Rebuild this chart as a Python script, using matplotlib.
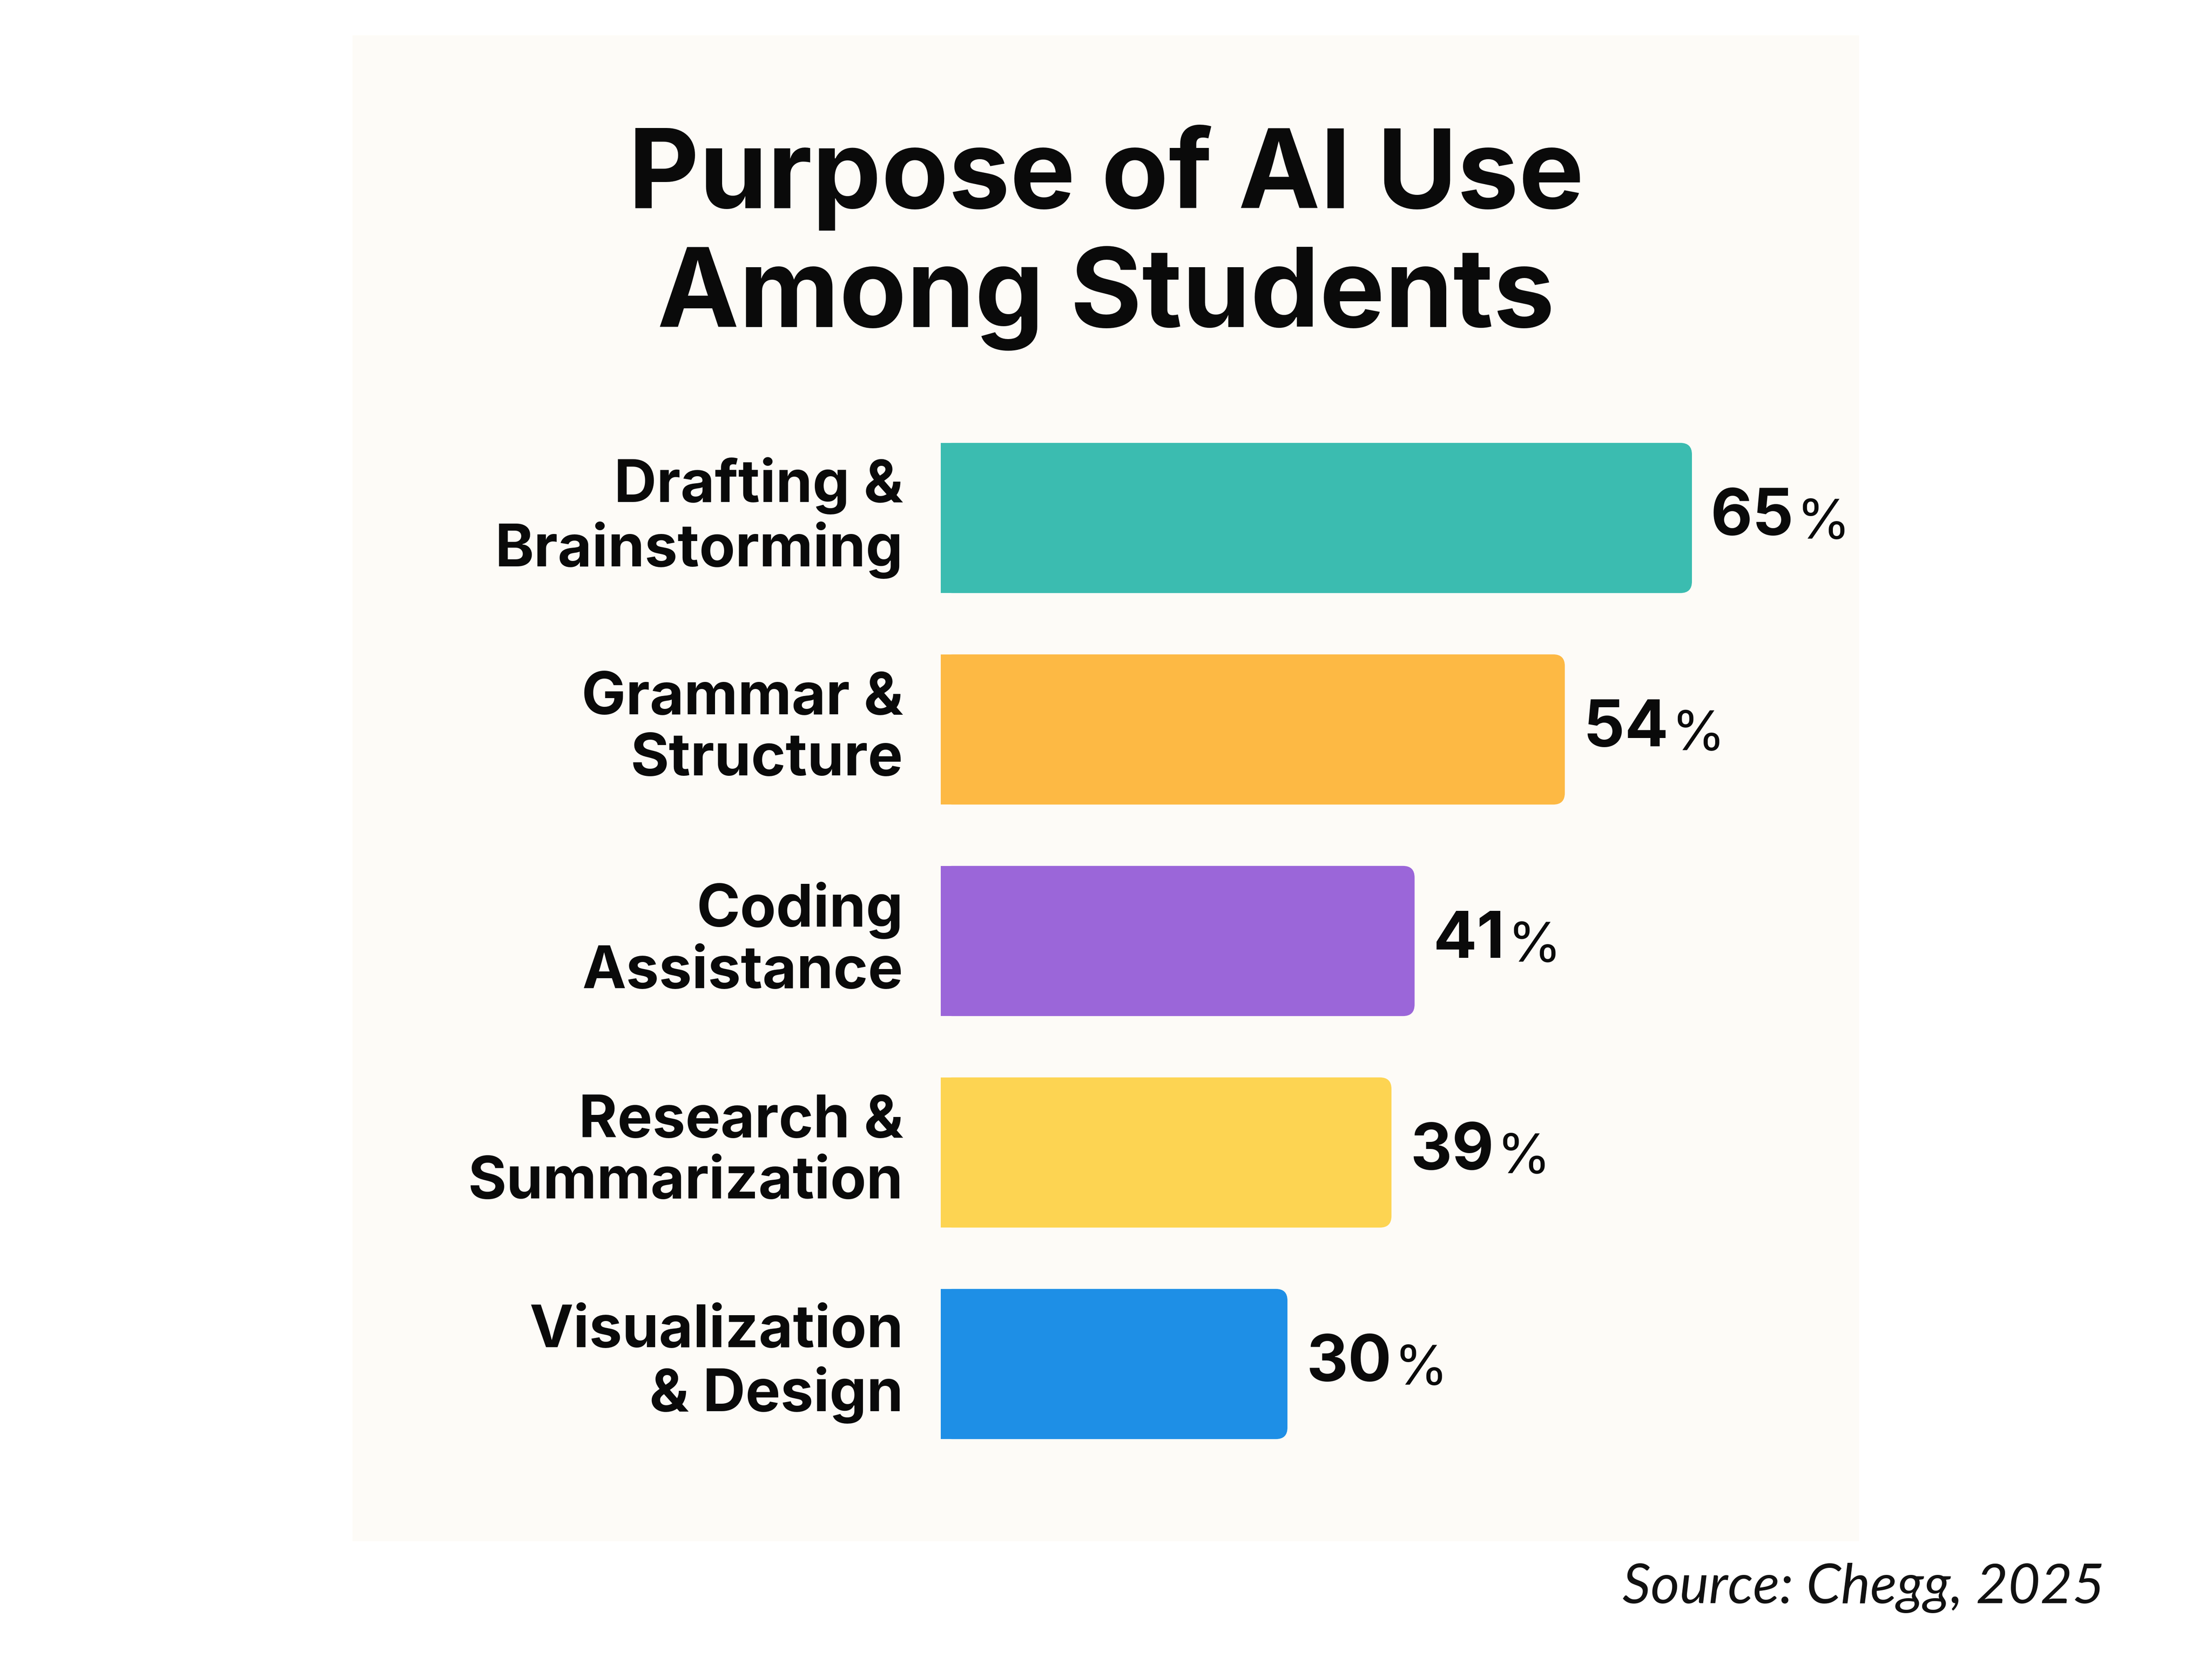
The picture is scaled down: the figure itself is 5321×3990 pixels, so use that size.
import matplotlib
matplotlib.use("Agg")
import matplotlib.pyplot as plt
from matplotlib.patches import FancyBboxPatch, Rectangle

# data
categories = ["Drafting &\nBrainstorming", "Grammar &\nStructure", "Coding\nAssistance",
              "Research &\nSummarization", "Visualization\n& Design"]
values = [65, 54, 41, 39, 30]
colors = ["#3BBCB0", "#FDB944", "#9B66D9", "#FDD452", "#1E8FE6"]

title = "Purpose of AI Use\nAmong Students"
source = "Source: Chegg, 2025"

W, H, DPI = 5321, 3990, 100
fig = plt.figure(figsize=(W / DPI, H / DPI), dpi=DPI, facecolor="white")

# off-white panel behind the chart
panel = Rectangle((848 / W, 1 - 3709 / H), (4472 - 848) / W, (3709 - 85) / H,
                  transform=fig.transFigure, facecolor="#FDFBF7", edgecolor="none", zorder=-5)
fig.patches.append(panel)

# baseline here is the one of the last line
fig.text(0.5, 1 - 232 * 3.393 / H, title, ha="center", va="baseline", fontsize=190,
         fontweight="bold", family="Inter", linespacing=1.19, color="#0a0a0a")

ax = fig.add_axes([2263 / W, 1 - 3537 / H, (5043 - 2263) / W, (3537 - 992) / H])
ax.set_xlim(0, 100)
ax.set_ylim(len(values) - 0.5, -0.5)
ax.axis("off")

bar_h = 0.71
bars = ax.barh(range(len(values)), values, height=bar_h, color=colors, alpha=0)

# aspect between data units so the rounding is circular on screen
fig.canvas.draw()
bb = ax.get_window_extent()
px_x = bb.width / 100
px_y = bb.height / len(values)
for b, c in zip(bars, colors):
    x0, y0 = b.get_x(), b.get_y()
    w, h = b.get_width(), b.get_height()
    ax.add_patch(FancyBboxPatch((x0, y0), w, h,
                                boxstyle="round,pad=0,rounding_size=1.0",
                                mutation_aspect=px_x / px_y,
                                facecolor=c, edgecolor="none", zorder=2))
    # square off the left side
    ax.add_patch(Rectangle((x0, y0), w / 2, h, facecolor=c, edgecolor="none", zorder=2))

for i, (v, lab) in enumerate(zip(values, categories)):
    num = ax.annotate(f"{v}", xy=(v, i), xytext=(45, 0), textcoords="offset pixels",
                      ha="left", va="center", fontsize=112, fontweight="bold",
                      family="Inter", color="#0a0a0a")
    ax.annotate("%", xy=(1, 0), xycoords=num, xytext=(6, -4), textcoords="offset pixels",
                ha="left", va="bottom", fontsize=95, fontweight="normal",
                family="Inter", color="#0a0a0a")
    ax.annotate(lab, xy=(0, i), xytext=(-90, 0), textcoords="offset pixels",
                ha="right", va="center", ma="right", fontsize=102, fontweight="bold",
                family="Inter", linespacing=1.15, color="#0a0a0a")

fig.text(5063 / W, 1 - 3858 / H, source, ha="right", va="baseline", fontsize=96,
         style="italic", family="Lato", color="#111111")

fig.savefig("out.png", dpi=DPI, facecolor="white")
